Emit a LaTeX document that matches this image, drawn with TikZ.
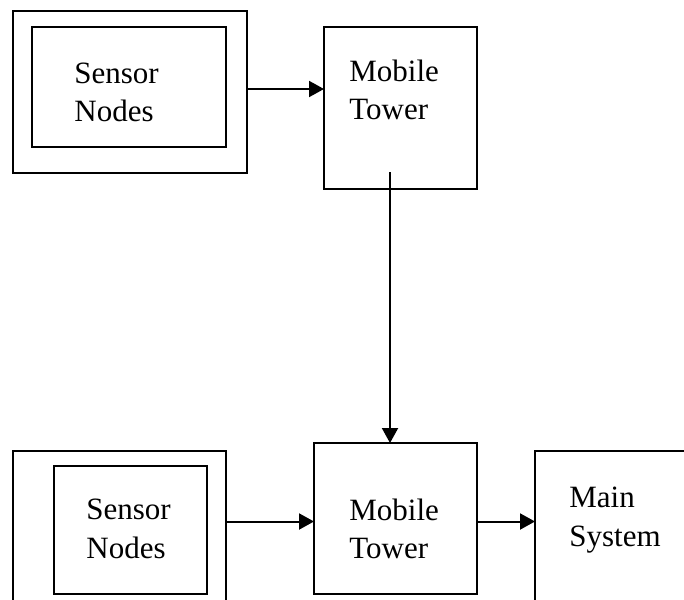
\documentclass[tikz,border=0pt]{standalone}
\usepackage{fontspec}
\setmainfont{Liberation Serif}
\usetikzlibrary{arrows.meta,fit}
\tikzset{
  box/.style={draw, line width=1pt, inner sep=0pt, outer sep=0pt},
  lbl/.style={align=left, anchor=west, inner sep=0pt, font=\fontsize{15.5}{19.25}\selectfont},
  arr/.style={line width=1pt, -{Triangle[length=7.5pt,width=8pt]}}
}
\begin{document}
\begin{tikzpicture}[x=0.5pt, y=-0.5pt]
  \path[use as bounding box, clip] (0,0) rectangle (684,599);
  %
  \node[box, fit={(12.7,11) (246.7,172.7)}] (outerA) {};   % top row
  \node[box, fit={(32.3,27.3) (226,147)}] (innerA) {};
  \node[lbl] (sensA) at (74,92.5) {Sensor\\Nodes};
  \node[box, fit={(324,27.3) (476.7,189)}] (towerA) {};
  \node[lbl] (mobA) at (349,90) {Mobile\\Tower};
  %
  \node[box, fit={(12.7,451) (225.7,640)}] (outerB) {};    % bottom row
  \node[box, fit={(54,466) (207,594)}] (innerB) {};
  \node[lbl] (sensB) at (86,529) {Sensor\\Nodes};
  \node[box, fit={(314,443) (477,594)}] (towerB) {};
  \node[lbl] (mobB) at (349,529) {Mobile\\Tower};
  \node[box, fit={(535,451) (720,640)}] (mainSys) {};
  \node[lbl] (mainTxt) at (569,520) {Main\\System};
  %
  \coordinate (rowA) at (0,89);                             % arrows
  \coordinate (rowB) at (0,521.5);
  \coordinate (down) at (390,172);
  \draw[arr] (outerA.east |- rowA) -- (towerA.west |- rowA);
  \draw[arr] (down) -- (towerB.north -| down);
  \draw[arr] (outerB.east |- rowB) -- (towerB.west |- rowB);
  \draw[arr] (towerB.east |- rowB) -- (mainSys.west |- rowB);
  %
\end{tikzpicture}
\end{document}
